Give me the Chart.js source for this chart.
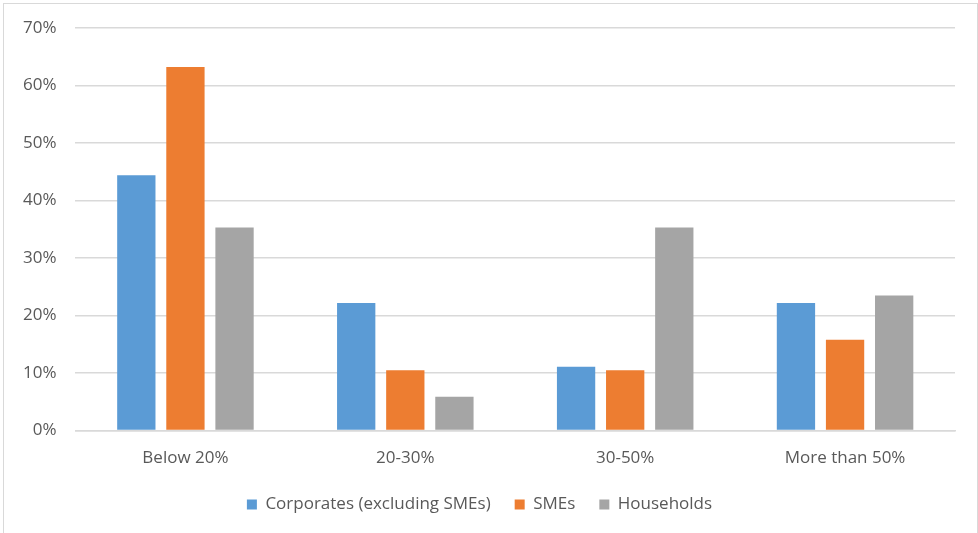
<!DOCTYPE html>
<html>
<head>
<meta charset="utf-8">
<script src="https://cdn.jsdelivr.net/npm/chart.js@4.4.0/dist/chart.umd.min.js"></script>
<style>
  body { margin: 0; background: #fff; overflow: hidden; }
  #wrap { position: absolute; left: 3px; top: 3px; width: 973px; height: 545px; border: 1px solid #d9d9d9; }
  #chart { position: absolute; left: 0; top: 0; }
</style>
</head>
<body>
<div id="wrap"><canvas id="chart" width="973" height="530"></canvas></div>
<script>
// categories and series (percent)
const categories = ['Below 20%', '20-30%', '30-50%', 'More than 50%'];
const corporates = [44.4, 22.2, 11.1, 22.2];
const smes = [63.2, 10.5, 10.5, 15.8];
const households = [35.3, 5.9, 35.3, 23.5];
const yTicks = [0, 10, 20, 30, 40, 50, 60, 70];

const font = { family: 'Open Sans', size: 17 };
const textColor = '#595959';

function makeSet(label, data, color) {
    return {
        label: label,
        data: data,
        backgroundColor: color,
        borderWidth: 0,
        categoryPercentage: 0.67,
        barPercentage: 0.78
    };
}

new Chart(document.getElementById('chart').getContext('2d'), {
    type: 'bar',
    data: {
        labels: categories,
        datasets: [
            makeSet('Corporates (excluding SMEs)', corporates, '#5b9bd5'),
            makeSet('SMEs', smes, '#ed7d31'),
            makeSet('Households', households, '#a5a5a5')
        ]
    },
    options: {
        responsive: false,
        animation: false,
        layout: { padding: { top: 24, right: 22, left: 0, bottom: 11 } },
        plugins: {
            tooltip: { enabled: false },
            legend: {
                position: 'bottom',
                labels: {
                    boxWidth: 10,
                    boxHeight: 10,
                    padding: 24,
                    color: textColor,
                    font: font
                }
            }
        },
        scales: {
            x: {
                grid: { display: false, drawTicks: false },
                border: { color: '#d9d9d9', width: 1.5 },
                ticks: { color: textColor, font: font, padding: 17 },
                afterFit: scale => { scale.height -= 13; }
            },
            y: {
                min: 0,
                max: 70,
                afterBuildTicks: axis => { axis.ticks = yTicks.map(v => ({ value: v })); },
                afterFit: scale => { scale.paddingTop = 0; },
                grid: { color: '#d9d9d9', lineWidth: 1.5, drawTicks: false },
                border: { display: false },
                ticks: {
                    color: textColor,
                    font: font,
                    padding: 19,
                    callback: v => v + '%'
                }
            }
        }
    }
});
</script>
</body>
</html>
